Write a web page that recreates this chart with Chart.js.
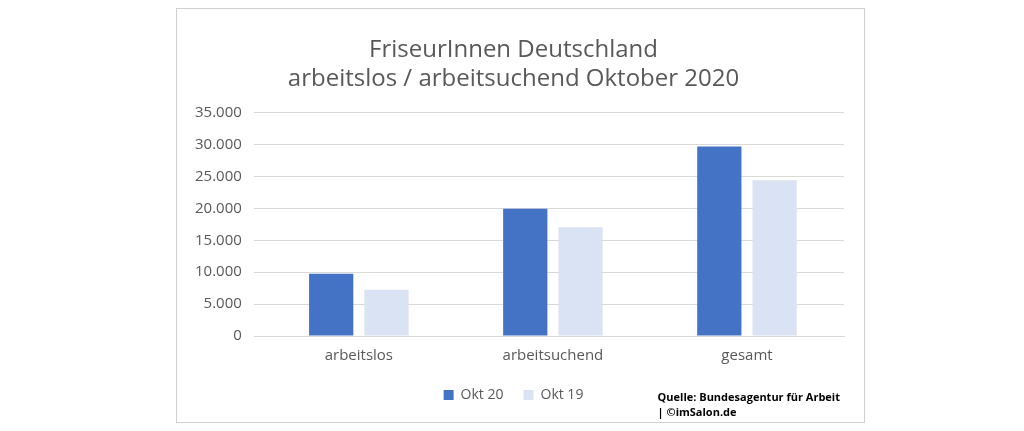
<!DOCTYPE html>
<html><head><meta charset="utf-8">
<script src="https://cdn.jsdelivr.net/npm/chart.js@4"></script>
<style>
body{margin:0;background:#fff;width:1024px;height:431px;overflow:hidden;font-family:"Open Sans",sans-serif}
#card{position:absolute;left:176px;top:8px;width:687px;height:413px;border:1px solid #d0d0d0;background:#fff}
#wrap{position:absolute;left:0;top:0;width:687px;height:413px}
#src{position:absolute;right:24px;top:380px;font:bold 11px "Open Sans",sans-serif;color:#000;line-height:15px}
</style></head><body>
<div id="card"><div id="wrap"><canvas id="c"></canvas></div>
<div id="src">Quelle: Bundesagentur für Arbeit<br>| ©imSalon.de</div></div>
<script>
const categories=["arbeitslos","arbeitsuchend","gesamt"];
const okt20=[9750,19950,29700];
const okt19=[7250,17050,24400];
const seriesNames=["Okt 20","Okt 19"];
const titleLines=["FriseurInnen Deutschland","arbeitslos / arbeitsuchend Oktober 2020"];
new Chart(document.getElementById('c'),{type:'bar',
data:{labels:categories,datasets:[
{label:seriesNames[0],data:okt20,backgroundColor:'#4472c4',categoryPercentage:0.57,barPercentage:0.8},
{label:seriesNames[1],data:okt19,backgroundColor:'#dae3f3',categoryPercentage:0.57,barPercentage:0.8}]},
options:{responsive:true,maintainAspectRatio:false,animation:false,
layout:{padding:{left:6,right:20,top:27,bottom:10}},
plugins:{title:{display:true,text:titleLines,color:'#595959',font:{size:24,family:'Open Sans',weight:'normal'},padding:{bottom:19},lineHeight:1.4},
legend:{position:'bottom',align:'center',labels:{color:'#595959',font:{size:14,family:'Open Sans'},boxWidth:10,boxHeight:10,padding:20},
 onClick:null},
tooltip:{enabled:false}},
scales:{x:{grid:{display:false},border:{color:'#d9d9d9'},ticks:{color:'#595959',font:{size:15,family:'Open Sans'}}},
y:{min:0,max:35000,ticks:{stepSize:5000,color:'#595959',font:{size:15,family:'Open Sans'},padding:12,
 callback:v=>v.toLocaleString('de-DE')},grid:{color:'#d9d9d9'},border:{display:false}}}}});
</script>
</body></html>
